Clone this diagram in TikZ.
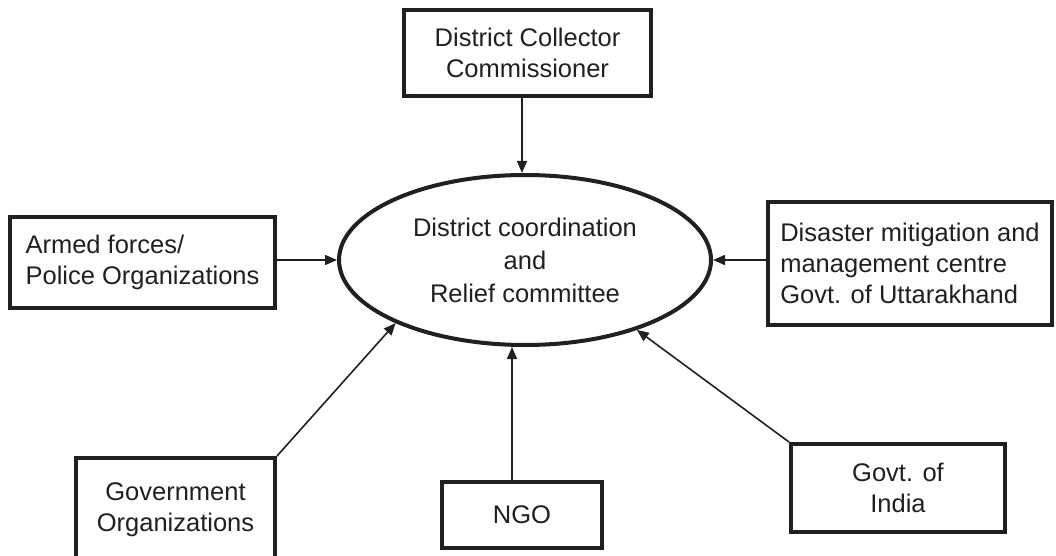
\documentclass[tikz,border=0pt]{standalone}
\usepackage{fontspec}
\setmainfont{Liberation Sans}
\usepackage{tikz}
\usetikzlibrary{arrows.meta,shapes.geometric}
\definecolor{Ink}{HTML}{231F20}

\begin{document}
\begin{tikzpicture}[
  x=1pt,y=-1pt,
  font=\fontsize{25.5}{31}\selectfont,
  box/.style={draw=Ink,line width=3.8pt,fill=white,inner sep=0pt,align=center,text=Ink},
  side/.style={box,align=left},
  hub/.style={ellipse,draw=Ink,line width=4pt,fill=white,inner sep=0pt,minimum width=372pt,minimum height=170pt,align=center,text=Ink,font=\fontsize{25.5}{33}\selectfont},
  arrow/.style={-{Triangle[length=12pt,width=10pt]},line width=1.6pt,color=Ink}
]
  \useasboundingbox (0,0) rectangle (1056,556);
  \clip (0,0) rectangle (1056,556);

  \node[hub] (hub) at (525,260) {District coordination\\and\\Relief committee};
  \node[box,minimum width=247pt,minimum height=86pt] (collector) at (527.5,53) {District Collector\\Commissioner};
  \node[side,minimum width=265pt,minimum height=91pt] (armed) at (142.5,262.5) {Armed forces/\\Police Organizations};
  \node[side,minimum width=284pt,minimum height=123pt] (dmmc) at (910,263.5) {Disaster mitigation and\\management centre\\Govt. of Uttarakhand};
  \node[box,minimum width=199pt,minimum height=104pt] (govorg) at (175.5,510) {Government\\Organizations};
  \node[box,minimum width=160pt,minimum height=66pt] (ngo) at (522,515) {NGO};
  \node[box,minimum width=214pt,minimum height=88pt] (goi) at (898,488) {Govt. of\\India};

  \draw[arrow] ([xshift=-5.5pt]collector.south) -- ([xshift=-5.5pt]collector.south |- hub.north);
  \draw[arrow] (armed.east |- hub.west) -- (hub.west);
  \draw[arrow] (dmmc.west |- hub.east) -- (hub.east);
  \draw[arrow] (govorg.north east) -- (hub.206);
  \draw[arrow] ([xshift=-10pt]ngo.north) -- ([xshift=-10pt]ngo.north |- hub.south);
  \draw[arrow] (goi.north west) -- (hub.328);
\end{tikzpicture}
\end{document}
